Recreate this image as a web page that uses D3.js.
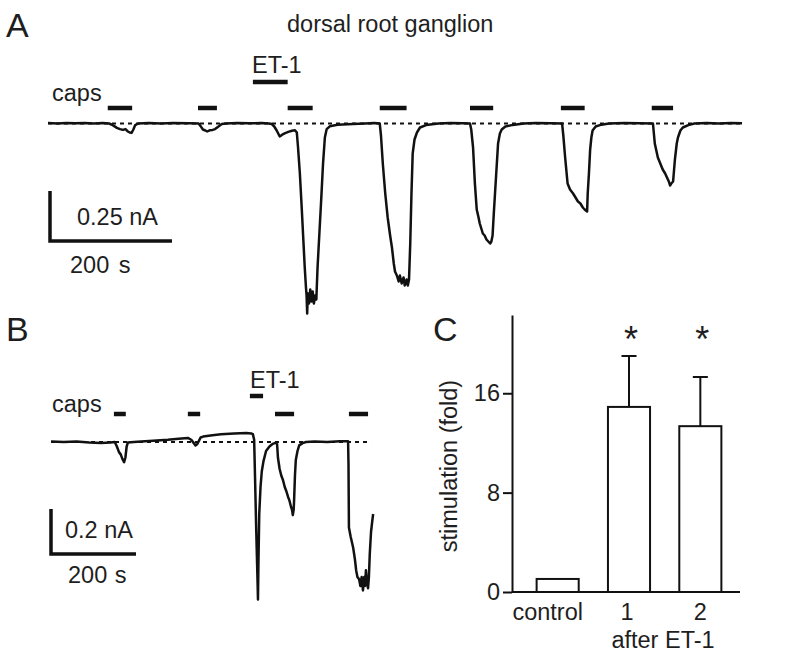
<!DOCTYPE html>
<html>
<head>
<meta charset="utf-8">
<script src="https://cdn.jsdelivr.net/npm/d3@7/dist/d3.min.js"></script>
<style>
  html, body { margin: 0; padding: 0; background: #fff; }
  svg { display: block; }
  text { font-family: "Liberation Sans", Arial, Helvetica, sans-serif; fill: #1e1e1e; }
</style>
</head>
<body>
<svg id="fig" width="785" height="660"></svg>
<script>
// ---------------- DATA ----------------
// Panel A: whole-cell current trace (time s, current nA)
const traceA = [
  [0,0.002],[15,0.0],[30,0.003],[45,0.001],[60,0.002],[75,0.0],[90,0.002],[100,0.0],
  [104,-0.005],[108,-0.012],[113,-0.022],[118,-0.028],[123,-0.032],[127,-0.028],[131,-0.04],[134,-0.045],[137,-0.047],[140,-0.03],[143,-0.008],[148,0.0],
  [165,0.002],[185,0.0],[205,0.002],[230,0.001],
  [247,0.0],[250,-0.012],[254,-0.03],[258,-0.035],[261,-0.04],[265,-0.034],[270,-0.032],[274,-0.028],[279,-0.016],[285,-0.003],[292,0.0],
  [310,0.003],[330,0.001],[350,0.002],[362,0.0],
  [367,-0.003],[371,-0.015],[375,-0.035],[380,-0.065],[384,-0.056],[389,-0.048],[394,-0.042],[400,-0.036],[405,-0.034],[408,-0.045],
  [410,-0.12],[413,-0.25],[416,-0.42],[419,-0.6],[421,-0.72],[423,-0.82],[424,-0.86],[425,-0.95],[426,-0.85],[428,-0.9],[430,-0.83],[432,-0.89],[434,-0.84],[436,-0.9],[438,-0.86],[440,-0.88],
  [442,-0.72],[445,-0.55],[448,-0.38],[451,-0.2],[454,-0.07],[457,-0.028],[462,-0.014],[475,-0.006],[500,-0.002],[520,0.0],[535,0.002],
  [544,0.0],[546,-0.06],[549,-0.2],[553,-0.35],[557,-0.47],[561,-0.56],[564,-0.62],[567,-0.7],[569,-0.74],[572,-0.76],[575,-0.79],[577,-0.76],[580,-0.8],[583,-0.77],[585,-0.81],[588,-0.78],[590,-0.81],
  [592,-0.78],[594,-0.6],[596,-0.35],[598,-0.15],[601,-0.08],[605,-0.045],[610,-0.02],[620,-0.008],[640,0.0],[660,0.002],[680,0.001],
  [692,0.0],[694,-0.03],[697,-0.12],[700,-0.3],[703,-0.43],[706,-0.47],[708,-0.5],[711,-0.53],[713,-0.55],[716,-0.56],[719,-0.58],[722,-0.59],[725,-0.6],[727,-0.59],[729,-0.56],
  [731,-0.45],[733,-0.35],[736,-0.2],[738,-0.1],[741,-0.05],[744,-0.03],[750,-0.015],[762,-0.007],[780,0.0],[800,0.002],[825,0.001],
  [843,0.0],[845,-0.06],[848,-0.17],[852,-0.3],[856,-0.33],[861,-0.35],[865,-0.37],[869,-0.39],[873,-0.4],[877,-0.42],[880,-0.43],[884,-0.44],
  [885,-0.35],[887,-0.25],[889,-0.13],[891,-0.07],[893,-0.035],[898,-0.015],[905,-0.008],[920,0.0],[945,0.002],[970,0.001],
  [992,0.0],[995,-0.1],[1000,-0.17],[1004,-0.2],[1008,-0.23],[1012,-0.25],[1015,-0.27],[1018,-0.29],[1020,-0.31],[1022,-0.3],[1025,-0.29],
  [1028,-0.18],[1031,-0.1],[1033,-0.07],[1037,-0.035],[1041,-0.02],[1050,-0.008],[1060,0.0],[1080,0.002],[1100,0.0],[1120,0.002],[1138,0.001]
];
// capsaicin applications (start, end in s) and ET-1 application, panel A
const capsA = [[98,138],[246,277],[393,434],[544,588],[692,730],[841,880],[990,1025]];
const et1A = [336,393];

// Panel B trace (time s, current nA)
const traceB = [
  [0,0.002],[30,0.0],[60,0.002],[90,-0.002],[118,-0.004],[140,-0.002],[150,0.0],
  [155,-0.02],[160,-0.045],[164,-0.055],[168,-0.075],[172,-0.09],[175,-0.07],[178,-0.02],[181,-0.002],
  [195,0.0],[212,0.002],[240,0.006],[275,0.01],[300,0.014],[322,0.018],
  [330,0.01],[336,-0.005],[340,-0.015],[344,-0.01],[348,0.005],[352,0.02],[358,0.024],
  [380,0.03],[400,0.034],[431,0.038],[460,0.04],[471,0.038],[475,0.035],
  [478,0.01],[480,-0.15],[483,-0.4],[486,-0.62],[487,-0.7],[488,-0.55],[490,-0.32],[493,-0.2],[496,-0.13],[500,-0.085],[506,-0.04],[514,-0.02],[522,-0.008],[529,-0.003],
  [532,-0.01],[534,-0.07],[538,-0.12],[542,-0.15],[546,-0.17],[550,-0.2],[554,-0.22],[558,-0.245],[561,-0.26],[565,-0.29],[567,-0.3],[569,-0.325],
  [571,-0.3],[572,-0.26],[574,-0.15],[576,-0.08],[580,-0.04],[584,-0.015],[592,-0.005],[600,0.0],[620,0.002],[650,0.0],[680,0.003],[699,0.003],
  [700,-0.1],[701,-0.38],[705,-0.42],[711,-0.47],[715,-0.52],[718,-0.57],[721,-0.6],[725,-0.61],[728,-0.64],[731,-0.6],[734,-0.66],[737,-0.6],[739,-0.64],[741,-0.57],[744,-0.63],[746,-0.65],[748,-0.6],
  [750,-0.5],[753,-0.4],[756,-0.35],[758,-0.32]
];
const capsB = [[148,176],[322,351],[527,572],[701,746]];
const et1B = [468,499];

// Panel C: bar chart
const categories = ["control", "1", "2"];
const means = [1.05, 14.9, 13.35];
const errTop = [null, 19.0, 17.3];
const significant = [false, true, true];
const yTicksC = [0, 8, 16];

// scale bars
const scaleA = { time: 200, current: 0.25, timeLabel: "200 s", currentLabel: "0.25 nA" };
const scaleB = { time: 200, current: 0.2, timeLabel: "200 s", currentLabel: "0.2 nA" };

// ---------------- DRAW ----------------
const svg = d3.select("#fig");
const ink = "#111";
const FS = 23.5;

function panelLabel(txt, x, y) {
  svg.append("text").attr("x", x).attr("y", y).attr("font-size", 34).text(txt);
}

function drawTrace(g, data, x, y, caps, et1, capsY, etY, dashEnd, sb, sbPos, labels) {
  // dashed baseline
  g.append("line")
    .attr("x1", x(data[0][0])).attr("x2", x(dashEnd))
    .attr("y1", y(0)).attr("y2", y(0))
    .attr("stroke", ink).attr("stroke-width", 1.8).attr("stroke-dasharray", "4,4");
  // trace
  const line = d3.line().x(d => x(d[0])).y(d => y(d[1]));
  g.append("path").datum(data).attr("d", line)
    .attr("fill", "none").attr("stroke", ink).attr("stroke-width", 2.5)
    .attr("stroke-linejoin", "round");
  // application bars
  g.selectAll(null).data(caps).enter().append("line")
    .attr("x1", d => x(d[0])).attr("x2", d => x(d[1]))
    .attr("y1", capsY).attr("y2", capsY)
    .attr("stroke", ink).attr("stroke-width", 4.5);
  g.append("line")
    .attr("x1", x(et1[0])).attr("x2", x(et1[1]))
    .attr("y1", etY).attr("y2", etY)
    .attr("stroke", ink).attr("stroke-width", 4.5);
  // scale bar
  const x0 = sbPos.x, yb = sbPos.y;
  const w = x(sb.time) - x(0);
  const h = y(-sb.current) - y(0);
  g.append("path")
    .attr("d", `M${x0},${yb - h}V${yb}H${x0 + w}`)
    .attr("fill", "none").attr("stroke", ink).attr("stroke-width", 3.5);
  g.append("text").attr("x", labels.cx).attr("y", labels.cy).attr("font-size", FS).text(sb.currentLabel);
  g.append("text").attr("x", labels.tx).attr("y", labels.ty).attr("font-size", FS)
    .attr("word-spacing", labels.ws).text(sb.timeLabel);
}

// ----- Panel A -----
const xA = d3.scaleLinear().domain([0, 1138]).range([48, 742]);
const yA = d3.scaleLinear().domain([0, -1]).range([123.5, 323.5]);
const gA = svg.append("g");
panelLabel("A", 6, 37);
svg.append("text").attr("x", 287).attr("y", 32).attr("font-size", FS).text("dorsal root ganglion");
drawTrace(gA, traceA, xA, yA, capsA, et1A, 108, 82, 1138, scaleA,
  { x: 50, y: 241 }, { cx: 77, cy: 225, tx: 70, ty: 273, ws: 3 });
gA.append("text").attr("x", 52).attr("y", 101).attr("font-size", FS).text("caps");
gA.append("text").attr("x", 252).attr("y", 73).attr("font-size", FS).text("ET-1");

// ----- Panel B -----
const xB = d3.scaleLinear().domain([0, 760]).range([51, 374]);
const yB = d3.scaleLinear().domain([0, -1]).range([442, 667]);
const gB = svg.append("g");
panelLabel("B", 6, 341);
drawTrace(gB, traceB, xB, yB, capsB, et1B, 414, 396, 753, scaleB,
  { x: 51, y: 554 }, { cx: 65, cy: 538, tx: 68, ty: 583, ws: 1 });
gB.append("text").attr("x", 52).attr("y", 412).attr("font-size", FS).text("caps");
gB.append("text").attr("x", 250).attr("y", 388).attr("font-size", FS).text("ET-1");

// ----- Panel C -----
panelLabel("C", 433, 341);
const xC = d3.scaleBand().domain(categories).range([522, 736]).paddingInner(0.41).paddingOuter(0.205);
const yC = d3.scaleLinear().domain([0, 22.3]).range([592, 315]);
const gC = svg.append("g");
// bars
gC.selectAll(null).data(categories).enter().append("rect")
  .attr("x", d => xC(d)).attr("width", xC.bandwidth())
  .attr("y", (d, i) => yC(means[i])).attr("height", (d, i) => yC(0) - yC(means[i]))
  .attr("fill", "#fff").attr("stroke", ink).attr("stroke-width", 2);
// error bars
const errData = categories.map((c, i) => ({ c, m: means[i], e: errTop[i] })).filter(d => d.e !== null);
gC.selectAll(null).data(errData).enter().append("path")
  .attr("d", d => {
    const cx = xC(d.c) + xC.bandwidth() / 2;
    return `M${cx},${yC(d.m)}V${yC(d.e)}M${cx - 7.5},${yC(d.e)}H${cx + 7.5}`;
  })
  .attr("fill", "none").attr("stroke", ink).attr("stroke-width", 2);
// asterisks
gC.selectAll(null).data(categories.filter((c, i) => significant[i])).enter().append("text")
  .attr("x", d => xC(d) + xC.bandwidth() / 2 + 2).attr("y", yC(20.9) + 20)
  .attr("text-anchor", "middle").attr("font-size", 36).text("*");
// y axis
const axY = d3.axisLeft(yC).tickValues(yTicksC).tickSize(9).tickSizeOuter(0).tickPadding(3);
const gAx = gC.append("g").attr("transform", "translate(512,0)").call(axY);
gAx.select(".domain").attr("stroke", ink).attr("stroke-width", 2);
gAx.selectAll(".tick line").attr("stroke", ink).attr("stroke-width", 2);
gAx.selectAll(".tick text").attr("font-size", FS).attr("fill", "#1e1e1e")
  .attr("font-family", '"Liberation Sans", Arial, sans-serif');
// x baseline
gC.append("line").attr("x1", 512).attr("x2", 740).attr("y1", yC(0)).attr("y2", yC(0))
  .attr("stroke", ink).attr("stroke-width", 2);
// category labels
const labelShift = { control: -10, "1": -2, "2": 0 };
gC.selectAll(null).data(categories).enter().append("text")
  .attr("x", d => xC(d) + xC.bandwidth() / 2 + labelShift[d]).attr("y", 620)
  .attr("text-anchor", "middle").attr("font-size", FS).text(d => d);
gC.append("text").attr("x", 663).attr("y", 648).attr("text-anchor", "middle").attr("font-size", FS).text("after ET-1");
// y label
gC.append("text").attr("transform", "translate(457,466) rotate(-90)")
  .attr("text-anchor", "middle").attr("font-size", FS).text("stimulation (fold)");
</script>
</body>
</html>
